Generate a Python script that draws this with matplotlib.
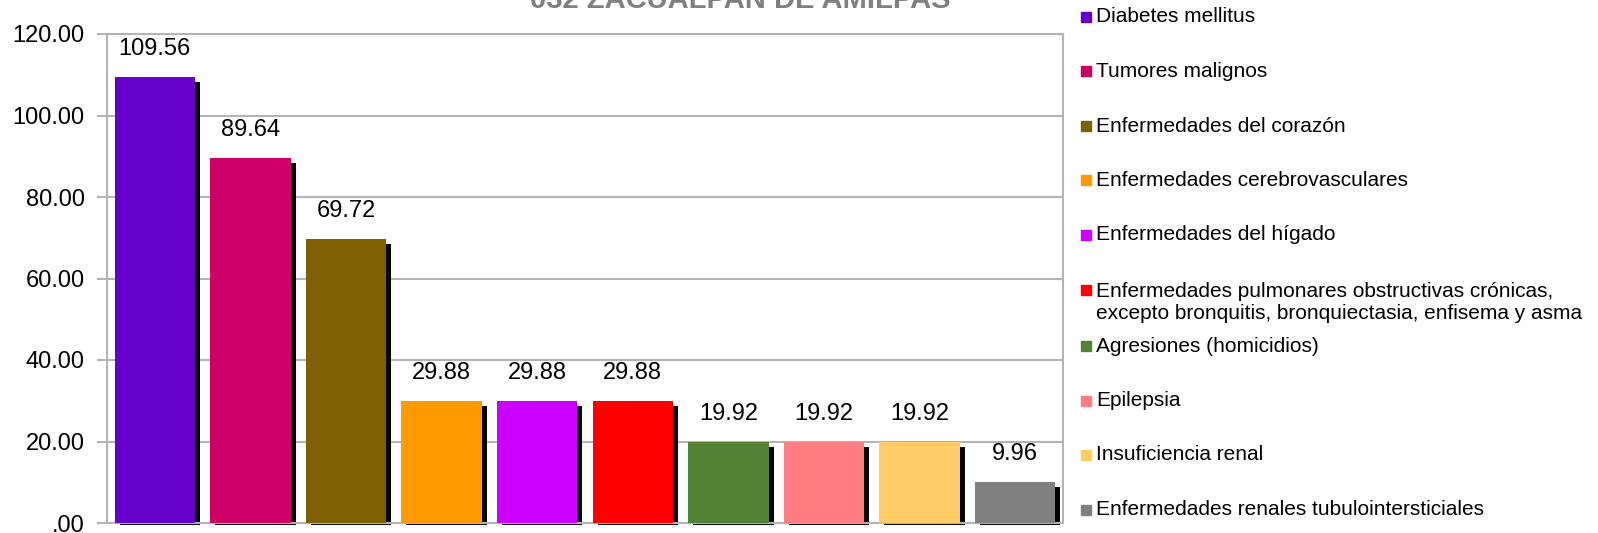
import matplotlib
matplotlib.use("Agg")
import matplotlib.pyplot as plt
from matplotlib.patches import Rectangle
from matplotlib.transforms import Bbox, ScaledTranslation, TransformedBbox
from matplotlib.ticker import FuncFormatter, MultipleLocator

plt.rcParams['font.family'] = ['Liberation Sans', 'DejaVu Sans']

title = "032 ZACUALPAN DE AMILPAS"

causes = ["Diabetes mellitus",
          "Tumores malignos",
          "Enfermedades del corazón",
          "Enfermedades cerebrovasculares",
          "Enfermedades del hígado",
          "Enfermedades pulmonares obstructivas crónicas,\nexcepto bronquitis, bronquiectasia, enfisema y asma",
          "Agresiones (homicidios)",
          "Epilepsia",
          "Insuficiencia renal",
          "Enfermedades renales tubulointersticiales"]

rates = [109.56, 89.64, 69.72, 29.88, 29.88, 29.88, 19.92, 19.92, 19.92, 9.96]

colors = ["#6600CC", "#CC0066", "#7F6000", "#FF9900", "#CC00FF",
          "#FF0000", "#548235", "#FF7C80", "#FFCC66", "#808080"]

GRID = "#B4B4B4"
DPI = 100
W, H = 1598, 533

fig = plt.figure(figsize=(W / DPI, H / DPI), dpi=DPI)
ax = fig.add_axes([107 / W, 10 / H, (1063 - 107) / W, (523 - 34) / H])

x = range(len(rates))
width = 0.84

# drop shadow: same bars shifted a few pixels right and down
shadow = ax.bar(x, rates, width=width, color="black", zorder=2)
offset = ScaledTranslation(5 / DPI, -5 / DPI, fig.dpi_scale_trans)
clip = TransformedBbox(Bbox([[0, 0], [1, 1]]),
                       ax.transAxes + ScaledTranslation(0, -2 / DPI, fig.dpi_scale_trans))
for p in shadow:
    p.set_transform(ax.transData + offset)
    p.set_clip_box(clip)

bars = ax.bar(x, rates, width=width, color=colors, zorder=3)

for rect, v in zip(bars, rates):
    ax.annotate(f"{v:.2f}", (rect.get_x() + rect.get_width() / 2, v),
                xytext=(0, 17), textcoords="offset pixels",
                ha="center", va="bottom", fontsize=17, zorder=4)

ax.set_xlim(-0.5, len(rates) - 0.5)
ax.set_ylim(0, 120)
ax.yaxis.set_major_locator(MultipleLocator(20))
ax.yaxis.set_major_formatter(FuncFormatter(lambda v, _: f"{v:.2f}".lstrip("0") if v == 0 else f"{v:.2f}"))
ax.grid(axis="y", color=GRID, linewidth=1.5, zorder=0)
ax.set_axisbelow(True)
ax.tick_params(axis="y", direction="out", length=7, width=1.5, color=GRID,
               labelsize=17, pad=9)
ax.tick_params(axis="x", bottom=False, labelbottom=False)
for s in ax.spines.values():
    s.set_color(GRID)
    s.set_linewidth(1.5)

fig.text(740 / W, 1 - 8 / H, title, ha="center", va="baseline",
         fontsize=21, fontweight="bold", color="#808080")

# legend drawn by hand so the two-line entry keeps its marker on the first line
leg_x = 1081 / W
line_gap = 24
for i, (name, c) in enumerate(zip(causes, colors)):
    yc = 17 + i * 54.5
    if i > 5:
        yc += 2
    fig.patches.append(Rectangle((leg_x, 1 - (yc + 5) / H), 10 / W, 10 / H,
                                 transform=fig.transFigure, color=c))
    extra = name.count("\n") * line_gap
    fig.text(1096 / W, 1 - (yc + 5.5 + extra) / H, name, ha="left", va="baseline",
             fontsize=15, linespacing=1.23)

fig.savefig("out.png", dpi=DPI)
